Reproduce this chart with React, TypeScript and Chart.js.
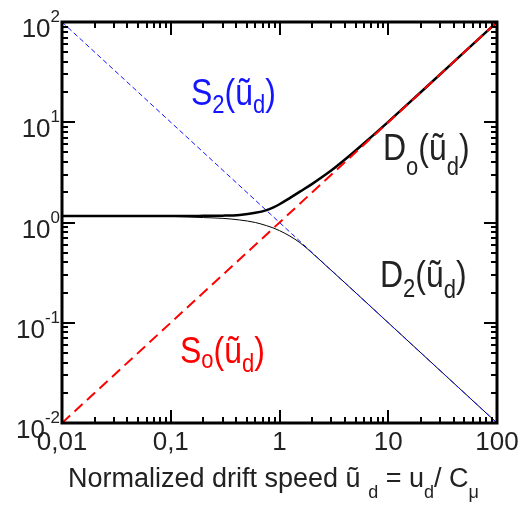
import React, { useEffect, useRef } from 'react';
import { Chart, registerables } from 'chart.js';

Chart.register(...registerables);

// ---- data ----
const driftSpeed = [0.01, 0.1, 0.2, 0.3, 0.43, 0.6, 0.76, 0.87, 1.0, 1.25, 1.54, 2, 2.9, 4, 5.5, 10, 20, 50, 100];
const dOValues = [1.16, 1.16, 1.165, 1.17, 1.19, 1.25, 1.33, 1.41, 1.52, 1.76, 2.03, 2.43, 3.22, 4.25, 5.7, 10.1, 20.05, 50, 100];
const d2Values = [1.16, 1.15, 1.12, 1.1, 1.06, 1.0, 0.93, 0.885, 0.83, 0.73, 0.63, 0.495, 0.343, 0.25, 0.182, 0.1, 0.05, 0.02, 0.01];
const soX = [0.01, 100];
const soY = [0.01, 100];
const s2X = [0.01, 100];
const s2Y = [100, 0.01];

const xTickValues = [0.01, 0.1, 1, 10, 100];
const xTickLabels = ['0,01', '0,1', '1', '10', '100'];
const yTickValues = [0.01, 0.1, 1, 10, 100];
const yTickExponents = ['-2', '-1', '0', '1', '2'];
const minorMultipliers = [2, 3, 4, 5, 6, 7, 8, 9];
const decades = [0.01, 0.1, 1, 10];

const FONT = '"Liberation Sans", Arial, Helvetica, sans-serif';
const TEXT = '#222222';

type Part = { t: string; size: number; dy?: number };

function drawRich(
  ctx: CanvasRenderingContext2D,
  parts: Part[],
  x: number,
  y: number,
  align: 'left' | 'center' | 'right',
  color: string,
  sy: number
) {
  const widths = parts.map((p) => {
    ctx.font = `${p.size}px ${FONT}`;
    return ctx.measureText(p.t).width;
  });
  const total = widths.reduce((a, b) => a + b, 0);
  let cx = align === 'left' ? x : align === 'center' ? x - total / 2 : x - total;
  parts.forEach((p, i) => {
    ctx.save();
    ctx.font = `${p.size}px ${FONT}`;
    ctx.fillStyle = color;
    ctx.textAlign = 'left';
    ctx.textBaseline = 'alphabetic';
    ctx.translate(cx, y + (p.dy || 0));
    ctx.scale(1, sy);
    ctx.fillText(p.t, 0, 0);
    ctx.restore();
    cx += widths[i];
  });
}

const framePlugin = {
  id: 'framePlugin',
  afterDraw(chart: any) {
    const ctx: CanvasRenderingContext2D = chart.ctx;
    const xs = chart.scales.x;
    const ys = chart.scales.y;
    const a = chart.chartArea;
    ctx.save();
    ctx.strokeStyle = '#000';
    ctx.lineWidth = 2;
    const major = 13;
    const minor = 6;
    const xMajor = xTickValues.map((v) => [v, major] as [number, number]);
    const yMajor = yTickValues.map((v) => [v, major] as [number, number]);
    const minors: [number, number][] = [];
    decades.forEach((d) => minorMultipliers.forEach((m) => minors.push([d * m, minor])));
    ctx.beginPath();
    [...xMajor, ...minors].forEach(([v, len]) => {
      const px = Math.round(xs.getPixelForValue(v));
      ctx.moveTo(px, a.bottom);
      ctx.lineTo(px, a.bottom - len);
      ctx.moveTo(px, a.top);
      ctx.lineTo(px, a.top + len);
    });
    [...yMajor, ...minors].forEach(([v, len]) => {
      const py = Math.round(ys.getPixelForValue(v));
      ctx.moveTo(a.left, py);
      ctx.lineTo(a.left + len, py);
      ctx.moveTo(a.right, py);
      ctx.lineTo(a.right - len, py);
    });
    ctx.stroke();
    ctx.lineWidth = 3;
    ctx.strokeRect(a.left, a.top, a.right - a.left, a.bottom - a.top);
    ctx.restore();

    // x tick labels
    xTickValues.forEach((v, i) => {
      drawRich(ctx, [{ t: xTickLabels[i], size: 26 }], xs.getPixelForValue(v), a.bottom + 27, 'center', TEXT, 1.0);
    });
    // y tick labels
    yTickValues.forEach((v, i) => {
      drawRich(
        ctx,
        [
          { t: '10', size: 26 },
          { t: yTickExponents[i], size: 17, dy: -15 },
        ],
        a.left - 2,
        ys.getPixelForValue(v) + 15,
        'right',
        TEXT,
        1.0
      );
    });
    // axis title
    drawRich(
      ctx,
      [
        { t: 'Normalized drift speed ũ ', size: 27 },
        { t: 'd', size: 18, dy: 11 },
        { t: ' = u', size: 27 },
        { t: 'd', size: 18, dy: 11 },
        { t: '/ C', size: 27 },
        { t: 'μ', size: 18, dy: 11 },
      ],
      68,
      487,
      'left',
      TEXT,
      1.0
    );
    // curve labels
    drawRich(
      ctx,
      [
        { t: 'S', size: 32 },
        { t: '2', size: 22, dy: 8 },
        { t: '(ũ', size: 32 },
        { t: 'd', size: 22, dy: 8 },
        { t: ')', size: 32 },
      ],
      191,
      105,
      'left',
      '#1414ff',
      1.15
    );
    drawRich(
      ctx,
      [
        { t: 'D', size: 32 },
        { t: 'o', size: 22, dy: 15 },
        { t: '(ũ', size: 32 },
        { t: 'd', size: 22, dy: 15 },
        { t: ')', size: 32 },
      ],
      383,
      160,
      'left',
      TEXT,
      1.15
    );
    drawRich(
      ctx,
      [
        { t: 'D', size: 32 },
        { t: '2', size: 22, dy: 10 },
        { t: '(ũ', size: 32 },
        { t: 'd', size: 22, dy: 11 },
        { t: ')', size: 32 },
      ],
      380,
      287,
      'left',
      TEXT,
      1.15
    );
    drawRich(
      ctx,
      [
        { t: 'S', size: 32 },
        { t: 'o', size: 22, dy: 5 },
        { t: '(ũ', size: 32 },
        { t: 'd', size: 22, dy: 9 },
        { t: ')', size: 32 },
      ],
      180,
      363,
      'left',
      '#ff0000',
      1.15
    );
  },
};

export default function App() {
  const ref = useRef<HTMLCanvasElement | null>(null);
  useEffect(() => {
    if (!ref.current) return;
    const toPts = (xs: number[], ys: number[]) => xs.map((x, i) => ({ x, y: ys[i] }));
    const chart = new Chart(ref.current, {
      type: 'line',
      data: {
        datasets: [
          {
            label: 'Do',
            data: toPts(driftSpeed, dOValues),
            borderColor: '#000',
            borderWidth: 2.5,
            pointRadius: 0,
            cubicInterpolationMode: 'monotone',
            order: 4,
          },
          {
            label: 'D2',
            data: toPts(driftSpeed, d2Values),
            borderColor: '#000',
            borderWidth: 1,
            pointRadius: 0,
            cubicInterpolationMode: 'monotone',
            order: 3,
          },
          {
            label: 'So',
            data: toPts(soX, soY),
            borderColor: '#ff0000',
            borderWidth: 2,
            borderDash: [11, 6],
            pointRadius: 0,
            order: 2,
          },
          {
            label: 'S2',
            data: toPts(s2X, s2Y),
            borderColor: '#1414ff',
            borderWidth: 1,
            borderDash: [5, 3],
            pointRadius: 0,
            order: 1,
          },
        ],
      },
      options: {
        responsive: false,
        animation: false,
        devicePixelRatio: 1,
        layout: { padding: { left: 62, right: 23, top: 22, bottom: 82 } },
        plugins: { legend: { display: false }, tooltip: { enabled: false } },
        scales: {
          x: { type: 'logarithmic', min: 0.01, max: 100, display: false },
          y: { type: 'logarithmic', min: 0.01, max: 100, display: false },
        },
      },
      plugins: [framePlugin],
    } as any);
    return () => chart.destroy();
  }, []);
  return (
    <div style={{ position: 'fixed', left: 0, top: 0, width: 520, height: 505, background: '#fff' }}>
      <canvas ref={ref} width={520} height={505} style={{ display: 'block' }} />
    </div>
  );
}
